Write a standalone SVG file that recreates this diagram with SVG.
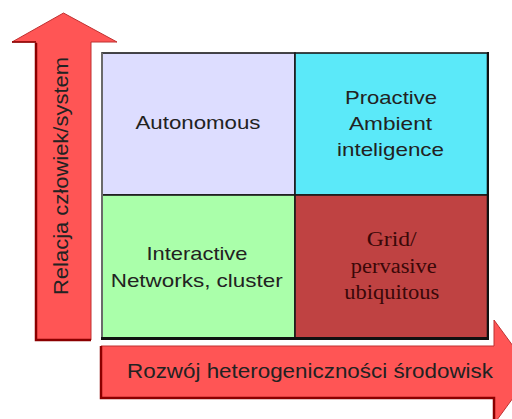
<svg xmlns="http://www.w3.org/2000/svg" width="512" height="419" viewBox="0 0 512 419">
  <style>
    .arrow { fill: #FF5555; stroke: #C03030; stroke-width: 1; }
    .edge { fill: none; stroke: #8B0000; stroke-width: 2.5; }
    .cell { stroke: #1a1a1a; stroke-width: 1.6; }
    .sans { font-family: "Liberation Sans", Arial, sans-serif; fill: #222222; text-anchor: middle; }
    .serif { font-family: "Liberation Serif", "Times New Roman", serif; fill: #3a0808; text-anchor: middle; }
  </style>

  <!-- vertical axis arrow -->
  <g id="axis-y">
    <polygon class="arrow" points="63.5,13 117,42 91,42 91,340 36,340 36,42 12,42"/>
    <polyline class="edge" points="36,43 36,340 91,340" />
    <line x1="12" y1="42" x2="36" y2="42" stroke="#8B0000" stroke-width="1.5"/>
    <text class="sans" font-size="21" transform="translate(68,176) rotate(-90)" textLength="238" lengthAdjust="spacingAndGlyphs">Relacja człowiek/system</text>
  </g>

  <!-- horizontal axis arrow -->
  <g id="axis-x">
    <polygon class="arrow" points="101,346 494,346 494,320 532,372 494,424 494,398 101,398"/>
    <polyline class="edge" points="101,346 101,398 494,398 494,424" />
    <text class="sans" x="310" y="378" font-size="21" textLength="366" lengthAdjust="spacingAndGlyphs">Rozwój heterogeniczności środowisk</text>
  </g>

  <!-- quadrant cells -->
  <g id="cell-autonomous">
    <rect class="cell" x="102" y="53" width="193" height="142" fill="#DDDDFF"/>
    <text class="sans" x="198" y="129" font-size="19" textLength="125" lengthAdjust="spacingAndGlyphs">Autonomous</text>
  </g>
  <g id="cell-proactive">
    <rect class="cell" x="295" y="53" width="192.5" height="142" fill="#5BE9F9"/>
    <text class="sans" x="391" y="103.5" font-size="19" textLength="92" lengthAdjust="spacingAndGlyphs">Proactive</text>
    <text class="sans" x="390.5" y="130" font-size="19" textLength="83" lengthAdjust="spacingAndGlyphs">Ambient</text>
    <text class="sans" x="390.5" y="156" font-size="19" textLength="107" lengthAdjust="spacingAndGlyphs">inteligence</text>
  </g>
  <g id="cell-interactive">
    <rect class="cell" x="102" y="195" width="193" height="143" fill="#AAFFAA"/>
    <text class="sans" x="197" y="260" font-size="19" textLength="101" lengthAdjust="spacingAndGlyphs">Interactive</text>
    <text class="sans" x="196.7" y="286.5" font-size="19" textLength="172" lengthAdjust="spacingAndGlyphs">Networks, cluster</text>
  </g>
  <g id="cell-grid">
    <rect class="cell" x="295" y="195" width="192.5" height="143" fill="#BF4242"/>
    <text class="serif" x="391.7" y="245.7" font-size="20" textLength="50" lengthAdjust="spacingAndGlyphs">Grid/</text>
    <text class="serif" x="393.8" y="273" font-size="20" textLength="86" lengthAdjust="spacingAndGlyphs">pervasive</text>
    <text class="serif" x="391.7" y="299" font-size="20" textLength="95" lengthAdjust="spacingAndGlyphs">ubiquitous</text>
  </g>

  <!-- outer frame -->
  <g id="frame">
    <line x1="102" y1="53" x2="102" y2="338" stroke="#6a6a6a" stroke-width="2"/>
    <line x1="101" y1="338.5" x2="489" y2="338.5" stroke="#111111" stroke-width="3"/>
    <line x1="488" y1="52" x2="488" y2="340" stroke="#111111" stroke-width="2"/>
  </g>
</svg>
